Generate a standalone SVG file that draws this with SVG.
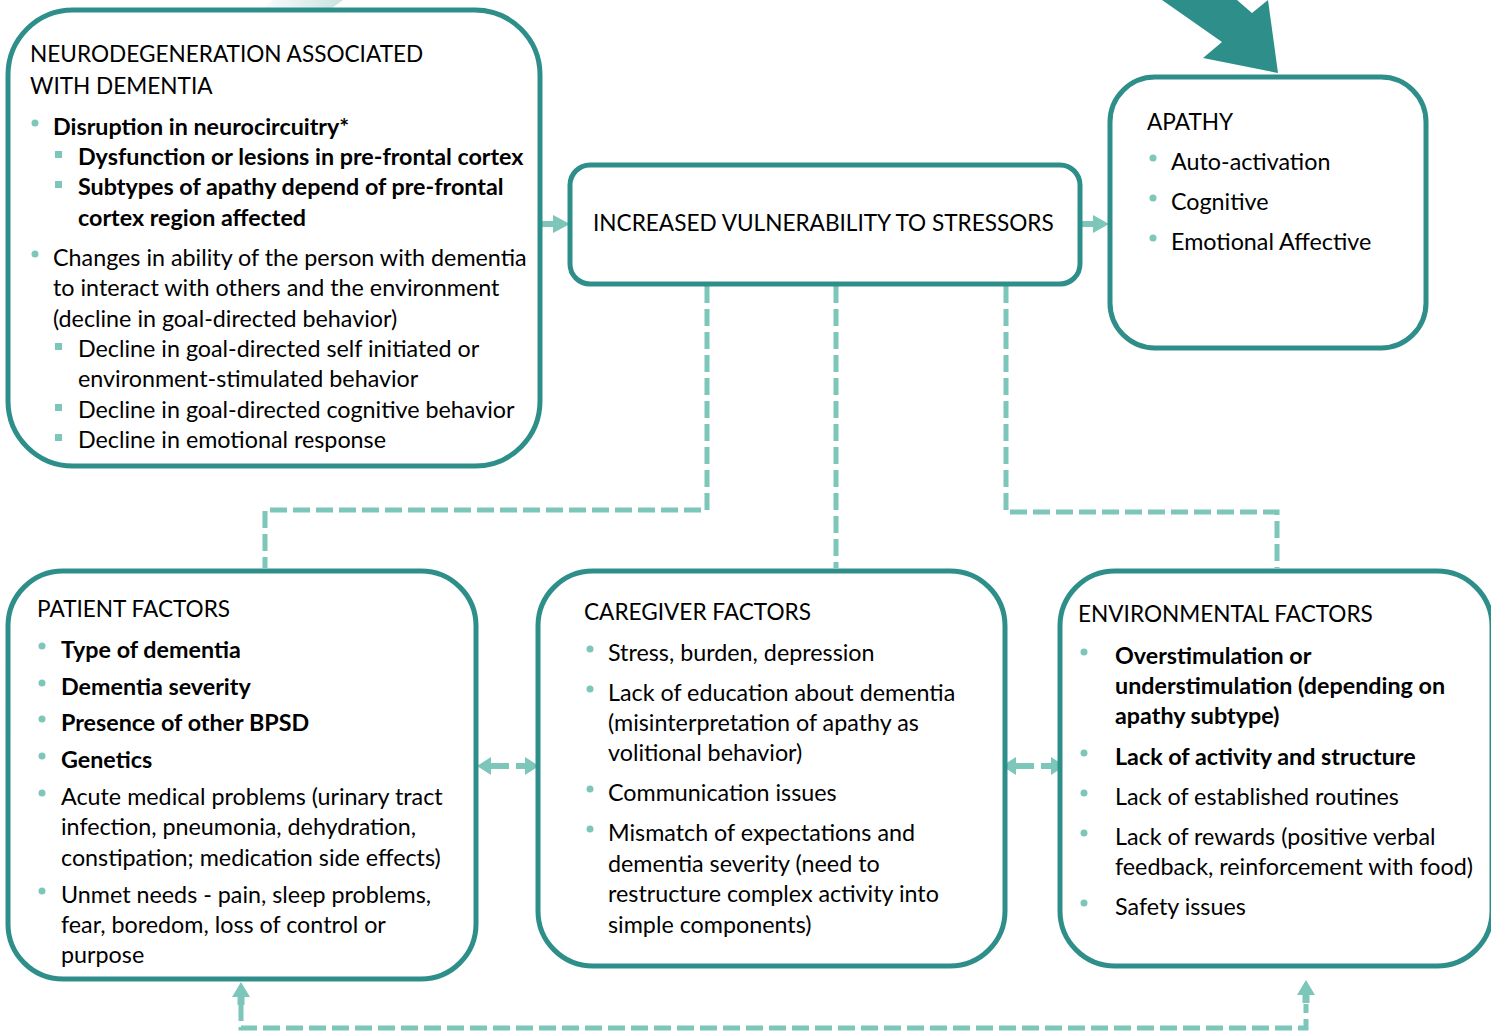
<svg xmlns="http://www.w3.org/2000/svg" width="1491" height="1035" viewBox="0 0 1491 1035">
<style>
.box{fill:#fff;stroke:#2e8f8a;stroke-width:5}
.t{font-family:Lato,"Liberation Sans",sans-serif;font-size:23.3px;fill:#000}
.h{font-size:22.6px}
.b{font-weight:bold}
.dot{fill:#7cc6ba}
.dash{fill:none;stroke:#7cc6ba;stroke-width:5;stroke-dasharray:17 6}
.ar{fill:#7cc6ba}
</style>
<defs>
<linearGradient id="fade" x1="0" y1="0" x2="1" y2="0">
<stop offset="0" stop-color="#ffffff"/>
<stop offset="1" stop-color="#c9e3e0"/>
</linearGradient>
</defs>
<polygon points="272,0 343,0 318,18 253,18" fill="url(#fade)"/>
<polygon points="1162,0 1237,0 1252,13 1268,0 1278,73 1203,58 1222,42" fill="#2e8f8a"/>

<g id="connectors">
<polygon class="ar" points="542,221 553,221 553,215 570,224 553,233 553,227 542,227"/>
<polygon class="ar" points="1082,221 1093,221 1093,215 1109,224 1093,233 1093,227 1082,227"/>
<path class="dash" d="M707,286 V510 H265 V568"/>
<path class="dash" d="M836,286 V568"/>
<path class="dash" d="M1006,286 V512 H1277 V568"/>
<polygon class="ar" points="477,766 491,757 491,763 509,763 509,769 491,769 491,775"/>
<polygon class="ar" points="539,766 525,757 525,763 516,763 516,769 525,769 525,775"/>
<polygon class="ar" points="1002,766 1016,757 1016,763 1034,763 1034,769 1016,769 1016,775"/>
<polygon class="ar" points="1065,766 1051,757 1051,763 1041,763 1041,769 1051,769 1051,775"/>
<path class="dash" d="M241,1004 V1028 H1306 V1004"/>
<polygon class="ar" points="241,982 250,997 244.5,997 244.5,1005 237.5,1005 237.5,997 232,997"/>
<polygon class="ar" points="1306,980 1315,995 1309.5,995 1309.5,1003 1302.5,1003 1302.5,995 1297,995"/>
</g>

<g id="neurodegeneration">
<rect class="box" x="8" y="10" width="532" height="456" rx="65"/>
<text class="t h" x="30" y="62">NEURODEGENERATION ASSOCIATED</text>
<text class="t h" x="30" y="94">WITH DEMENTIA</text>
<circle class="dot" cx="35" cy="123" r="3.5"/>
<text class="t b" x="53" y="135">Disruption in neurocircuitry*</text>
<rect class="dot" x="55" y="151" width="7" height="7"/>
<text class="t b" x="78" y="165">Dysfunction or lesions in pre-frontal cortex</text>
<rect class="dot" x="55" y="181" width="7" height="7"/>
<text class="t b" x="78" y="195">Subtypes of apathy depend of pre-frontal</text>
<text class="t b" x="78" y="226">cortex region affected</text>
<circle class="dot" cx="35" cy="254" r="3.5"/>
<text class="t" x="53" y="266">Changes in ability of the person with dementia</text>
<text class="t" x="53" y="296">to interact with others and the environment</text>
<text class="t" x="53" y="327">(decline in goal-directed behavior)</text>
<rect class="dot" x="55" y="343" width="7" height="7"/>
<text class="t" x="78" y="357">Decline in goal-directed self initiated or</text>
<text class="t" x="78" y="387">environment-stimulated behavior</text>
<rect class="dot" x="55" y="404" width="7" height="7"/>
<text class="t" x="78" y="418">Decline in goal-directed cognitive behavior</text>
<rect class="dot" x="55" y="434" width="7" height="7"/>
<text class="t" x="78" y="448">Decline in emotional response</text>
</g>

<g id="vulnerability">
<rect class="box" x="570" y="165" width="510" height="119" rx="20"/>
<text class="t h" x="593" y="231">INCREASED VULNERABILITY TO STRESSORS</text>
</g>

<g id="apathy">
<rect class="box" x="1110" y="77" width="316" height="271" rx="45"/>
<text class="t h" x="1147" y="130">APATHY</text>
<circle class="dot" cx="1153" cy="158" r="3.5"/>
<text class="t" x="1171" y="170">Auto-activation</text>
<circle class="dot" cx="1153" cy="198" r="3.5"/>
<text class="t" x="1171" y="210">Cognitive</text>
<circle class="dot" cx="1153" cy="238" r="3.5"/>
<text class="t" x="1171" y="250">Emotional Affective</text>
</g>

<g id="patient">
<rect class="box" x="8" y="571" width="468" height="408" rx="55"/>
<text class="t h" x="37" y="617">PATIENT FACTORS</text>
<circle class="dot" cx="42" cy="646" r="3.5"/>
<text class="t b" x="61" y="658">Type of dementia</text>
<circle class="dot" cx="42" cy="683" r="3.5"/>
<text class="t b" x="61" y="695">Dementia severity</text>
<circle class="dot" cx="42" cy="719" r="3.5"/>
<text class="t b" x="61" y="731">Presence of other BPSD</text>
<circle class="dot" cx="42" cy="756" r="3.5"/>
<text class="t b" x="61" y="768">Genetics</text>
<circle class="dot" cx="42" cy="793" r="3.5"/>
<text class="t" x="61" y="805">Acute medical problems (urinary tract</text>
<text class="t" x="61" y="835">infection, pneumonia, dehydration,</text>
<text class="t" x="61" y="866">constipation; medication side effects)</text>
<circle class="dot" cx="42" cy="891" r="3.5"/>
<text class="t" x="61" y="903">Unmet needs - pain, sleep problems,</text>
<text class="t" x="61" y="933">fear, boredom, loss of control or</text>
<text class="t" x="61" y="963">purpose</text>
</g>

<g id="caregiver">
<rect class="box" x="538" y="571" width="467" height="395" rx="55"/>
<text class="t h" x="584" y="620">CAREGIVER FACTORS</text>
<circle class="dot" cx="590" cy="649" r="3.5"/>
<text class="t" x="608" y="661">Stress, burden, depression</text>
<circle class="dot" cx="590" cy="689" r="3.5"/>
<text class="t" x="608" y="701">Lack of education about dementia</text>
<text class="t" x="608" y="731">(misinterpretation of apathy as</text>
<text class="t" x="608" y="761">volitional behavior)</text>
<circle class="dot" cx="590" cy="789" r="3.5"/>
<text class="t" x="608" y="801">Communication issues</text>
<circle class="dot" cx="590" cy="829" r="3.5"/>
<text class="t" x="608" y="841">Mismatch of expectations and</text>
<text class="t" x="608" y="872">dementia severity (need to</text>
<text class="t" x="608" y="902">restructure complex activity into</text>
<text class="t" x="608" y="933">simple components)</text>
</g>

<g id="environmental">
<rect class="box" x="1060" y="571" width="432" height="395" rx="55"/>
<text class="t h" x="1078" y="622">ENVIRONMENTAL FACTORS</text>
<circle class="dot" cx="1084" cy="652" r="3.5"/>
<text class="t b" x="1115" y="664">Overstimulation or</text>
<text class="t b" x="1115" y="694">understimulation (depending on</text>
<text class="t b" x="1115" y="724">apathy subtype)</text>
<circle class="dot" cx="1084" cy="753" r="3.5"/>
<text class="t b" x="1115" y="765">Lack of activity and structure</text>
<circle class="dot" cx="1084" cy="793" r="3.5"/>
<text class="t" x="1115" y="805">Lack of established routines</text>
<circle class="dot" cx="1084" cy="833" r="3.5"/>
<text class="t" x="1115" y="845">Lack of rewards (positive verbal</text>
<text class="t" x="1115" y="875">feedback, reinforcement with food)</text>
<circle class="dot" cx="1084" cy="903" r="3.5"/>
<text class="t" x="1115" y="915">Safety issues</text>
</g>
</svg>
